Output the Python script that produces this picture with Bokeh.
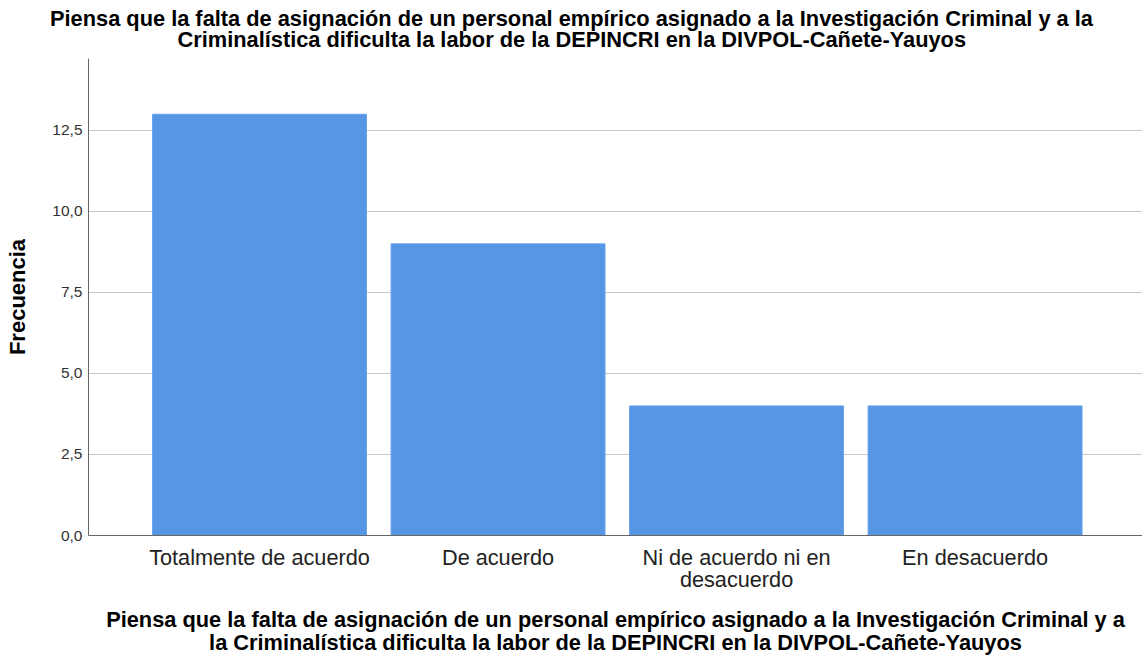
from bokeh.plotting import figure
from bokeh.models import Range1d, FixedTicker, CustomJSTickFormatter, ColumnDataSource, Title
from bokeh.embed import file_html
from bokeh.resources import INLINE

categories = ["Totalmente de acuerdo", "De acuerdo", "Ni de acuerdo ni en\ndesacuerdo", "En desacuerdo"]
frecuencia = [13, 9, 4, 4]
y_ticks = [0, 2.5, 5, 7.5, 10, 12.5]
title_lines = [
    "Piensa que la falta de asignación de un personal empírico asignado a la Investigación Criminal y a la",
    "Criminalística dificulta la labor de la DEPINCRI en la DIVPOL-Cañete-Yauyos",
]
xtitle_lines = [
    "Piensa que la falta de asignación de un personal empírico asignado a la Investigación Criminal y a",
    "la Criminalística dificulta la labor de la DEPINCRI en la DIVPOL-Cañete-Yauyos",
]
y_label = "Frecuencia"

FONT = "Liberation Sans"
xs = list(range(len(categories)))
src = ColumnDataSource(dict(x=xs, top=frecuencia))

p = figure(width=1142, height=657, output_backend="svg", toolbar_location=None,
           x_range=Range1d(-0.717, 3.702), y_range=Range1d(0, 14.72),
           min_border_left=88, min_border_right=0, min_border_top=58, min_border_bottom=121)
p.outline_line_color = None

p.vbar(x="x", top="top", width=0.897, source=src, fill_color="#5596e5", line_color="#6aa3e9", line_width=1)

p.xaxis.ticker = FixedTicker(ticks=xs)
p.xaxis.major_label_overrides = {i: c for i, c in enumerate(categories)}
p.xaxis.major_label_text_font = FONT
p.xaxis.major_label_text_font_size = "21.7px"
p.xaxis.major_label_text_color = "#222222"
p.xaxis.major_label_text_line_height = 0.9
p.xaxis.major_label_standoff = 3
p.xaxis.major_tick_line_color = None
p.xaxis.minor_tick_line_color = None
p.xaxis.axis_line_color = "#666666"
p.xaxis.axis_line_width = 1
p.xaxis.axis_label = "\n".join(xtitle_lines)
p.xaxis.axis_label_text_font = FONT
p.xaxis.axis_label_text_font_style = "bold"
p.xaxis.axis_label_text_font_size = "21.8px"
p.xaxis.axis_label_text_color = "#000000"
p.xaxis.axis_label_text_line_height = 0.9
p.xaxis.axis_label_standoff = 12

p.yaxis.ticker = FixedTicker(ticks=y_ticks)
p.yaxis.formatter = CustomJSTickFormatter(code="return tick.toFixed(1).replace('.', ',');")
p.yaxis.major_label_text_font = FONT
p.yaxis.major_label_text_font_size = "15.5px"
p.yaxis.major_label_text_color = "#333333"
p.yaxis.major_label_standoff = 0
p.yaxis.major_tick_line_color = None
p.yaxis.minor_tick_line_color = None
p.yaxis.axis_line_color = "#666666"
p.yaxis.axis_line_width = 1
p.yaxis.axis_label = y_label
p.yaxis.axis_label_text_font = FONT
p.yaxis.axis_label_text_font_style = "bold"
p.yaxis.axis_label_text_font_size = "22px"
p.yaxis.axis_label_text_color = "#000000"
p.yaxis.axis_label_standoff = 19

p.xgrid.grid_line_color = None
p.ygrid.ticker = FixedTicker(ticks=y_ticks)
p.ygrid.grid_line_color = "#c8c8c8"
p.ygrid.grid_line_width = 1.2

# chart title: two centred lines (second line added first = closest to the plot)
for txt, off, so in [(title_lines[1], 89, 14), (title_lines[0], -38.5, -27)]:
    p.add_layout(Title(text=txt, align="left", offset=off, standoff=so,
                       text_font=FONT, text_font_style="bold", text_font_size="21.8px",
                       text_color="#000000"), "above")

open("out.html", "w").write(file_html(p, INLINE))
